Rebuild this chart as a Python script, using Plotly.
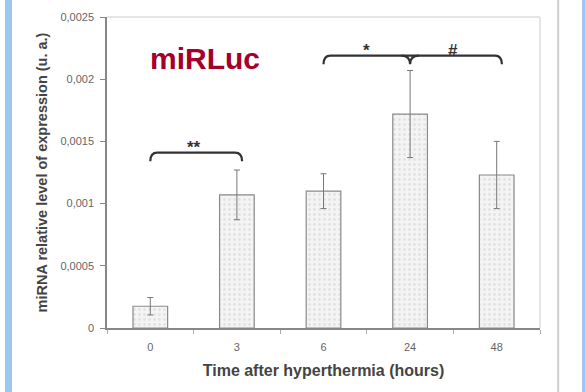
import plotly.graph_objects as go

# data
hours = ["0", "3", "6", "24", "48"]
expression = [0.000175, 0.00107, 0.0011, 0.00172, 0.00123]
error = [0.00007, 0.0002, 0.00014, 0.00035, 0.00027]

y_ticks = [0, 0.0005, 0.001, 0.0015, 0.002, 0.0025]
y_tick_labels = ["0", "0,0005", "0,001", "0,0015", "0,002", "0,0025"]

# significance brackets: (first bar, last bar, middle bar or None, height, labels)
brackets = [
    (0, 1, None, 0.00141, ["**"]),
    (2, 4, 3, 0.00219, ["*", "#"]),
]

positions = list(range(len(hours)))

fig = go.Figure()

fig.add_trace(
    go.Bar(
        x=positions,
        y=expression,
        width=0.4,
        marker=dict(
            color="#f4f4f4",
            line=dict(color="#8a8a8a", width=1.2),
            pattern=dict(shape=".", fgcolor="#d0d0d0", size=5, solidity=0.25),
        ),
        error_y=dict(
            type="data",
            array=error,
            visible=True,
            color="#777777",
            thickness=1,
            width=3,
        ),
        showlegend=False,
    )
)

# brackets drawn as paths in data coordinates
drop = 0.00007
for start, end, mid, height, labels in brackets:
    x0, x1 = start, end + 0.06
    path = (
        f"M {x0},{height - drop} Q {x0},{height} {x0 + 0.08},{height} "
        f"L {x1 - 0.08},{height} Q {x1},{height} {x1},{height - drop}"
    )
    fig.add_shape(type="path", path=path, line=dict(color="#333333", width=2.2))
    if mid is not None:
        cusp = (
            f"M {mid - 0.1},{height} Q {mid},{height} {mid},{height - drop} "
            f"Q {mid},{height} {mid + 0.1},{height}"
        )
        fig.add_shape(type="path", path=cusp, line=dict(color="#333333", width=2.2))
        centres = [(start + mid) / 2, (mid + end) / 2]
    else:
        centres = [(start + end) / 2]
    for label, cx in zip(labels, centres):
        fig.add_annotation(
            x=cx,
            y=height,
            text=f"<b>{label}</b>",
            showarrow=False,
            yanchor="bottom",
            yshift=-6,
            font=dict(family="Arial", size=17, color="#333333"),
        )

# light frame on top and right
fig.add_shape(type="line", xref="paper", yref="paper", x0=0, x1=1, y0=1, y1=1,
              line=dict(color="#dddddd", width=1.5))
fig.add_shape(type="line", xref="paper", yref="paper", x0=1, x1=1, y0=0, y1=1,
              line=dict(color="#dddddd", width=1.5))

# page decorations: blue side strips and grey rule
fig.add_shape(type="rect", xref="paper", yref="paper", x0=-0.2356, x1=-0.2194, y0=-0.21, y1=1.06,
              line=dict(width=0), fillcolor="#9cc7f2", layer="below")
fig.add_shape(type="rect", xref="paper", yref="paper", x0=1.097, x1=1.12, y0=-0.21, y1=1.06,
              line=dict(width=0), fillcolor="#9cc7f2", layer="below")
fig.add_shape(type="line", xref="paper", yref="paper", x0=1.042, x1=1.042, y0=-0.21, y1=1.06,
              line=dict(color="#cccccc", width=2))

fig.add_annotation(
    xref="paper",
    yref="paper",
    x=0.226,
    y=0.868,
    xanchor="center",
    yanchor="middle",
    text="<b>miRLuc</b>",
    showarrow=False,
    font=dict(family="Arial", size=30, color="#a3002b"),
)

fig.update_layout(
    width=585,
    height=392,
    margin=dict(l=107, r=45, t=17, b=64, autoexpand=False),
    paper_bgcolor="white",
    plot_bgcolor="white",
    font=dict(family="Arial", color="#555555"),
    xaxis=dict(
        tickvals=positions,
        ticktext=hours,
        range=[-0.5, 4.5],
        showline=True,
        linecolor="#888888",
        linewidth=1.5,
        showgrid=False,
        zeroline=False,
        ticks="",
        ticklabelstandoff=8,
        minor=dict(tick0=0.5, dtick=1, ticks="outside", ticklen=4, tickcolor="#aaaaaa", showgrid=False),
        tickfont=dict(size=11, color="#666666"),
        title=dict(
            text="<b>Time after hyperthermia (hours)</b>",
            font=dict(size=16, color="#444444"),
            standoff=13,
        ),
    ),
    yaxis=dict(
        range=[0, 0.0025],
        tickvals=y_ticks,
        ticktext=y_tick_labels,
        showline=True,
        linecolor="#888888",
        linewidth=1.5,
        showgrid=False,
        zeroline=False,
        ticks="outside",
        ticklen=5,
        tickcolor="#888888",
        ticklabelstandoff=4,
        tickfont=dict(size=11, color="#666666"),
        title=dict(
            text="<b>miRNA relative level of expression (u. a.)</b>",
            font=dict(size=14.5, color="#444444"),
            standoff=9,
        ),
    ),
)

# drop the page margin so the figure sits at the window origin
fig.write_html(
    "out.html",
    config={"displayModeBar": False},
    post_script="document.body.style.margin='0';document.body.style.overflow='hidden';",
)
